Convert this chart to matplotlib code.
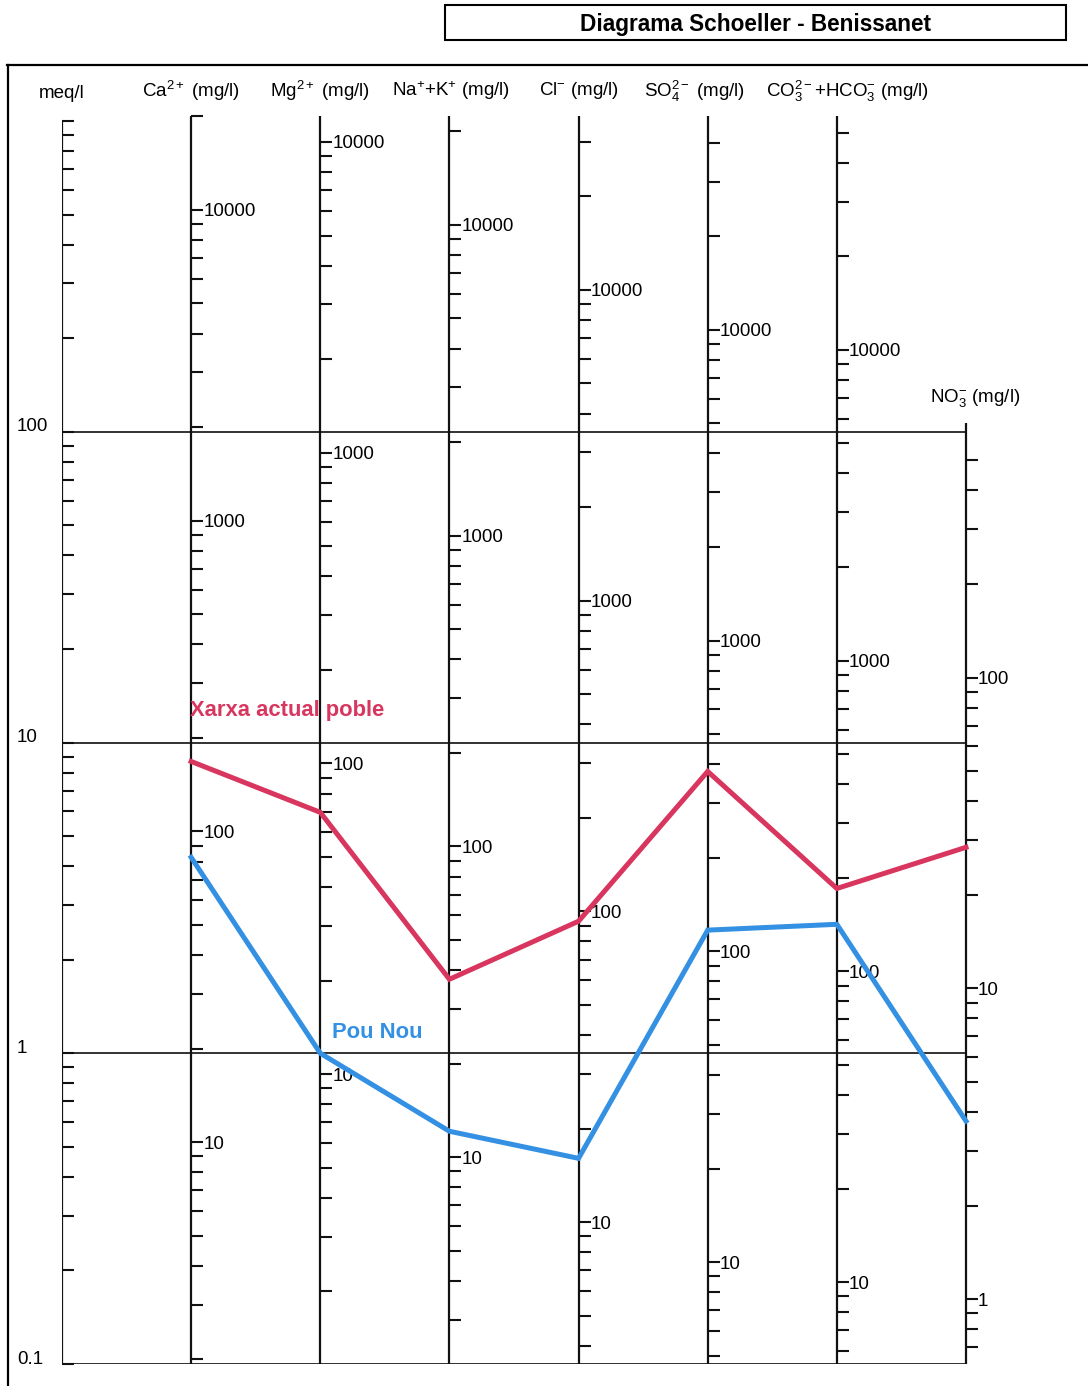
import numpy as np
import matplotlib
matplotlib.use('Agg')
import matplotlib.pyplot as plt
from matplotlib.patches import Rectangle
from matplotlib.lines import Line2D

plt.rcParams['font.family'] = ['Liberation Sans', 'DejaVu Sans']
plt.rcParams['mathtext.fontset'] = 'custom'
plt.rcParams['mathtext.rm'] = 'Liberation Sans'
plt.rcParams['mathtext.it'] = 'Liberation Sans:italic'
plt.rcParams['mathtext.bf'] = 'Liberation Sans:bold'

# ---------------- data ----------------
title = 'Diagrama Schoeller - Benissanet'
meq_label = 'meq/l'
ion_labels = [r'Ca$^{2+}$ (mg/l)', r'Mg$^{2+}$ (mg/l)', r'Na$^{+}$+K$^{+}$ (mg/l)',
              r'Cl$^{-}$ (mg/l)', r'SO$_4^{2-}$ (mg/l)',
              r'CO$_3^{2-}$+HCO$_3^{-}$ (mg/l)', r'NO$_3^{-}$ (mg/l)']
# mg/l per meq/l used by each column scale
mg_per_meq = [19.33, 11.68, 21.6, 34.95, 46.98, 54.5, 6.18]
# labelled mg/l values on each column
mg_labels = [[10, 100, 1000, 10000]] * 6 + [[1, 10, 100]]
meq_ticklabels = [0.1, 1, 10, 100]

series_names = ['Xarxa actual poble', 'Pou Nou']
xarxa_meq = [8.69, 5.96, 1.73, 2.66, 8.07, 3.39, 4.60]
pou_nou_meq = [4.27, 1.00, 0.561, 0.459, 2.49, 2.60, 0.605]
series_values = [xarxa_meq, pou_nou_meq]
series_colors = ['#d8365e', '#3390e2']
series_label_pos = [(0.99, 12.96), (2.09, 1.19)]

# ---------------- figure ----------------
W, H = 1088, 1386
fig = plt.figure(figsize=(W / 100, H / 100), dpi=100)
ax = fig.add_axes([62 / W, 1 - 1364 / H, 904 / W, (1364 - 121) / H])
ax.set_yscale('log')
ax.set_ylim(0.1, 1000)
ax.set_xlim(0, 7)
ax.axis('off')

tick_dx = 12 / (904 / 7)
axis_top = 1040.0
no3_top = 107.0
no3_max_mg = 500
axcol = '#111111'
header_dx = [0, 0, 2, 0, -13, 11, 9]

# horizontal decade lines
for v in meq_ticklabels:
    ax.hlines(v, 0, 7, color='#222222', lw=1.3, zorder=1)

# left meq axis
ax.vlines(0, 0.1, axis_top, color=axcol, lw=1.6, zorder=2)
left_ticks = [d * 10.0 ** k for k in range(-1, 3) for d in range(1, 10)] + [1000]
for t in left_ticks:
    ax.hlines(t, 0, tick_dx, color=axcol, lw=1.5, zorder=2, clip_on=False)
for v in meq_ticklabels:
    ax.annotate(f'{v:g}', xy=(0, v), xytext=(-45, 7), textcoords='offset pixels',
                ha='left', va='center_baseline', fontsize=13.5)
ax.annotate(meq_label, xy=(0, 1000), xytext=(0, 29), textcoords='offset pixels',
            ha='center', va='center_baseline', fontsize=13.5, annotation_clip=False)

# ion columns
for i, (lab, f, mls) in enumerate(zip(ion_labels, mg_per_meq, mg_labels)):
    x = i + 1
    top = no3_top if i == 6 else axis_top
    ax.vlines(x, 0.1, top, color=axcol, lw=1.6, zorder=2, clip_on=False)
    for k in range(-1, 6):
        for d in range(1, 10):
            mg = d * 10.0 ** k
            m = mg / f
            if m < 0.0999 or m > top:
                continue
            if i == 6 and mg > no3_max_mg:
                continue
            ax.hlines(m, x, x + tick_dx, color=axcol, lw=1.5, zorder=2, clip_on=False)
    for mg in mls:
        ax.annotate(f'{mg:d}', xy=(x, mg / f), xytext=(12, 0), textcoords='offset pixels',
                    ha='left', va='center_baseline', fontsize=13.5, zorder=3)
    ax.annotate(lab, xy=(x, top), xytext=(header_dx[i], 28), textcoords='offset pixels',
                ha='center', va='center_baseline', fontsize=13.5, annotation_clip=False)

# series
xs = np.arange(1, 8)
for name, vals, col, pos in zip(series_names, series_values, series_colors, series_label_pos):
    ax.plot(xs, vals, color=col, lw=3.6, zorder=5, solid_joinstyle='miter', clip_on=False)
    ax.text(pos[0], pos[1], name, color=col, fontsize=15.8, fontweight='bold',
            ha='left', va='center_baseline', zorder=6)

# outer frame
fig.add_artist(Line2D([7.5 / W, 7.5 / W], [0, 1 - 65 / H], transform=fig.transFigure,
                      color='k', lw=1.6))
fig.add_artist(Line2D([7 / W, 1], [1 - 65 / H, 1 - 65 / H], transform=fig.transFigure,
                      color='k', lw=1.6))

# title box
fig.add_artist(Rectangle((445 / W, 1 - 40 / H), 621 / W, 35 / H, transform=fig.transFigure,
                         fill=False, edgecolor='k', lw=1.5))
fig.text(755 / W, 1 - 24 / H, title, ha='center', va='center', fontsize=16.3,
         fontweight='bold', family=['Liberation Sans', 'DejaVu Sans'])

fig.savefig('out.png', dpi=100, facecolor='white')
